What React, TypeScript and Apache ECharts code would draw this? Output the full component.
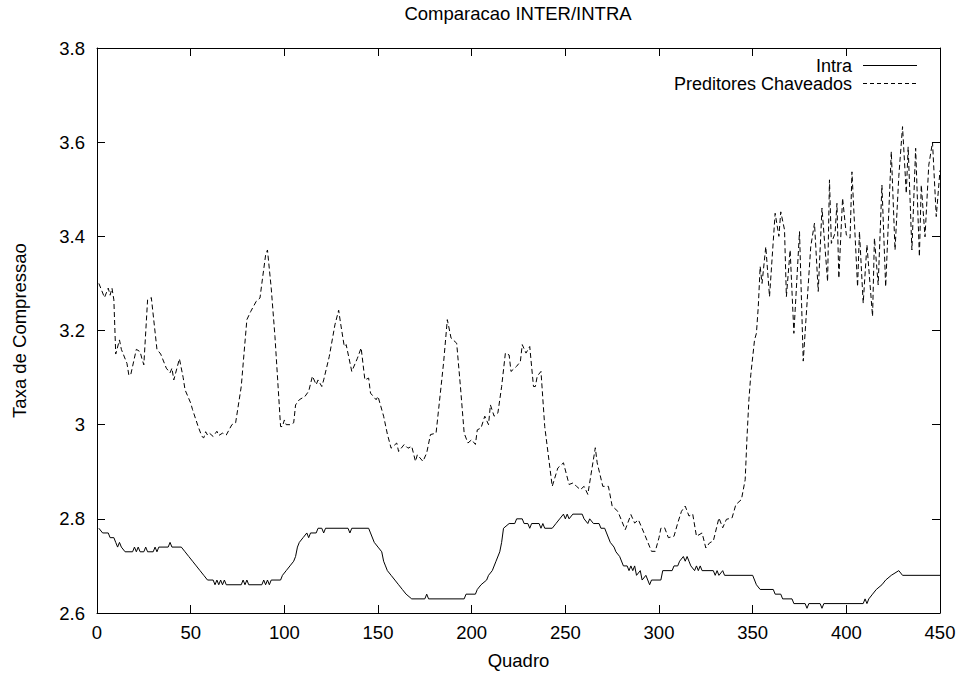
import React, { useEffect, useRef } from "react";
import * as echarts from "echarts";

const chartTitle = "Comparacao INTER/INTRA";
const xAxisName = "Quadro";
const yAxisName = "Taxa de Compressao";
const seriesNames = ["Intra", "Preditores Chaveados"];
const xTicks = { min: 0, max: 450, interval: 50 };
const yTicks = { min: 2.6, max: 3.8, interval: 0.2 };

// Intra: [quadro, taxa]
const intraPoints: [number, number][] = [
  [1, 2.78], [3, 2.77], [6, 2.77], [7, 2.76], [9, 2.76], [10, 2.75], [11, 2.74], [12, 2.75], [13, 2.74],
  [15, 2.73], [19, 2.73], [20, 2.74], [21, 2.73], [22, 2.74], [23, 2.73], [25, 2.73], [26, 2.74], [27, 2.73],
  [30, 2.73], [31, 2.74], [32, 2.73], [33, 2.74], [38, 2.74], [39, 2.75], [40, 2.74], [45, 2.74], [47, 2.73],
  [49, 2.72], [51, 2.71], [53, 2.7], [55, 2.69], [57, 2.68], [59, 2.67], [62, 2.67], [63, 2.66], [64, 2.67],
  [65, 2.66], [66, 2.67], [67, 2.66], [68, 2.67], [69, 2.66], [77, 2.66], [78, 2.67], [79, 2.66], [80, 2.67],
  [81, 2.66], [88, 2.66], [89, 2.67], [90, 2.66], [91, 2.67], [92, 2.66], [93, 2.67], [98, 2.67], [99, 2.68],
  [101, 2.69], [103, 2.7], [105, 2.71], [106, 2.72], [107, 2.74], [108, 2.75], [110, 2.76], [112, 2.77],
  [113, 2.76], [114, 2.77], [117, 2.77], [118, 2.78], [120, 2.78], [121, 2.77], [122, 2.78], [134, 2.78],
  [135, 2.77], [136, 2.78], [145, 2.78], [146, 2.77], [148, 2.75], [150, 2.74], [152, 2.73], [153, 2.71],
  [154, 2.7], [155, 2.69], [157, 2.68], [159, 2.67], [161, 2.66], [163, 2.65], [165, 2.64], [168, 2.63],
  [175, 2.63], [176, 2.64], [177, 2.63], [196, 2.63], [197, 2.64], [202, 2.64], [203, 2.65], [205, 2.66],
  [208, 2.67], [209, 2.68], [211, 2.69], [213, 2.71], [215, 2.73], [216, 2.75], [217, 2.78], [220, 2.79],
  [223, 2.79], [224, 2.8], [227, 2.8], [228, 2.79], [230, 2.79], [231, 2.78], [232, 2.79], [236, 2.79],
  [237, 2.78], [238, 2.79], [239, 2.78], [243, 2.78], [245, 2.79], [247, 2.8], [249, 2.81], [250, 2.8],
  [251, 2.81], [252, 2.8], [254, 2.81], [259, 2.81], [260, 2.8], [262, 2.79], [263, 2.8], [265, 2.79],
  [268, 2.79], [269, 2.78], [271, 2.78], [272, 2.77], [274, 2.75], [276, 2.74], [277, 2.73], [279, 2.72],
  [281, 2.7], [283, 2.7], [284, 2.69], [285, 2.7], [286, 2.69], [287, 2.7], [288, 2.68], [290, 2.69],
  [291, 2.67], [293, 2.68], [295, 2.66], [296, 2.67], [301, 2.67], [302, 2.69], [307, 2.69], [308, 2.7],
  [310, 2.7], [311, 2.71], [313, 2.72], [314, 2.71], [315, 2.72], [316, 2.71], [317, 2.7], [319, 2.69],
  [320, 2.7], [321, 2.69], [322, 2.7], [323, 2.69], [329, 2.69], [330, 2.68], [331, 2.69], [332, 2.68],
  [334, 2.69], [335, 2.68], [350, 2.68], [352, 2.66], [354, 2.65], [361, 2.65], [362, 2.64], [365, 2.64],
  [366, 2.63], [371, 2.63], [372, 2.62], [378, 2.62], [379, 2.61], [380, 2.62], [386, 2.62], [387, 2.61],
  [388, 2.62], [409, 2.62], [410, 2.63], [411, 2.62], [412, 2.63], [414, 2.64], [416, 2.65], [419, 2.66],
  [421, 2.67], [424, 2.68], [428, 2.69], [430, 2.68], [450, 2.68],
];

// Preditores Chaveados: [quadro, taxa]
const predPoints: [number, number][] = [
  [1, 3.3], [2, 3.29], [4, 3.27], [6, 3.29], [7, 3.275], [8, 3.29], [9, 3.265], [10, 3.15], [12, 3.18],
  [13, 3.16], [16, 3.13], [17, 3.105], [18, 3.106], [21, 3.16], [23, 3.155], [24, 3.14], [25, 3.127],
  [27, 3.265], [29, 3.27], [32, 3.16], [34, 3.15], [37, 3.12], [38, 3.115], [39, 3.11], [40, 3.12],
  [41, 3.095], [44, 3.14], [46, 3.1], [47, 3.074], [50, 3.046], [51, 3.032], [54, 2.996], [56, 2.975],
  [57, 2.972], [58, 2.985], [59, 2.978], [60, 2.982], [62, 2.975], [64, 2.986], [65, 2.977], [67, 2.982],
  [69, 2.978], [72, 3.0], [74, 3.004], [77, 3.081], [80, 3.223], [82, 3.24], [85, 3.262], [87, 3.269],
  [88, 3.3], [90, 3.36], [91, 3.371], [93, 3.29], [95, 3.187], [98, 2.996], [99, 2.996], [100, 3.01],
  [101, 3.0], [103, 3.0], [105, 3.004], [106, 3.042], [108, 3.053], [111, 3.06], [113, 3.071], [115, 3.103],
  [117, 3.085], [118, 3.095], [120, 3.081], [121, 3.095], [124, 3.145], [127, 3.212], [129, 3.243],
  [130, 3.216], [132, 3.166], [133, 3.17], [136, 3.113], [139, 3.141], [141, 3.163], [143, 3.095],
  [145, 3.099], [146, 3.067], [149, 3.053], [150, 3.06], [153, 3.018], [155, 2.98], [157, 2.95],
  [160, 2.961], [161, 2.943], [164, 2.958], [166, 2.95], [168, 2.954], [170, 2.922], [171, 2.936],
  [174, 2.922], [176, 2.94], [178, 2.979], [181, 2.982], [185, 3.131], [187, 3.223], [189, 3.184],
  [192, 3.173], [194, 3.081], [196, 2.982], [198, 2.961], [200, 2.968], [202, 2.958], [203, 2.989],
  [205, 2.993], [207, 3.018], [209, 3.0], [210, 3.042], [212, 3.018], [214, 3.025], [216, 3.081],
  [218, 3.152], [220, 3.148], [221, 3.113], [224, 3.124], [226, 3.134], [227, 3.17], [229, 3.152],
  [231, 3.166], [233, 3.081], [234, 3.081], [235, 3.103], [237, 3.113], [239, 2.996], [243, 2.869],
  [246, 2.908], [249, 2.919], [252, 2.873], [254, 2.876], [256, 2.869], [258, 2.862], [260, 2.869],
  [262, 2.852], [266, 2.951], [267, 2.919], [270, 2.869], [273, 2.869], [275, 2.827], [278, 2.816],
  [282, 2.777], [285, 2.809], [287, 2.791], [289, 2.798], [292, 2.77], [296, 2.731], [298, 2.731],
  [300, 2.76], [301, 2.78], [303, 2.781], [305, 2.76], [308, 2.763], [310, 2.791], [312, 2.816],
  [314, 2.827], [316, 2.806], [318, 2.81], [320, 2.763], [323, 2.77], [325, 2.738], [327, 2.749],
  [329, 2.753], [332, 2.802], [334, 2.781], [336, 2.799], [339, 2.802], [341, 2.83], [344, 2.841],
  [346, 2.883], [347, 2.975], [348, 3.053], [349, 3.106], [351, 3.18], [352, 3.194], [353, 3.251],
  [354, 3.336], [355, 3.3], [357, 3.378], [359, 3.272], [362, 3.449], [364, 3.4], [365, 3.452],
  [367, 3.414], [368, 3.272], [370, 3.371], [372, 3.194], [375, 3.41], [377, 3.135], [381, 3.378],
  [383, 3.428], [385, 3.283], [387, 3.46], [390, 3.304], [391, 3.52], [392, 3.385], [394, 3.407],
  [395, 3.47], [396, 3.311], [398, 3.481], [400, 3.403], [402, 3.396], [403, 3.537], [406, 3.293],
  [407, 3.41], [409, 3.258], [411, 3.382], [414, 3.23], [415, 3.396], [417, 3.297], [419, 3.509],
  [421, 3.293], [424, 3.58], [426, 3.371], [428, 3.527], [430, 3.633], [432, 3.491], [433, 3.59],
  [435, 3.371], [437, 3.587], [439, 3.357], [440, 3.509], [442, 3.399], [444, 3.551], [446, 3.6],
  [448, 3.442], [450, 3.54],
];

const FONT = '"Liberation Sans", Arial, Helvetica, sans-serif';
const FS = 18.5;
const LEGEND_FS = 18;

export default function App() {
  const ref = useRef<HTMLDivElement>(null);
  useEffect(() => {
    if (!ref.current) return;
    const chart = echarts.init(ref.current, undefined, { renderer: "svg" });
    const axisLine = { show: true, onZero: false, lineStyle: { color: "#000", width: 1 } };
    const tick = { show: true, inside: true, length: 8, lineStyle: { color: "#000", width: 1 } };
    const labelStyle = { color: "#000", fontSize: FS, fontFamily: FONT };
    const nameStyle = { color: "#000", fontSize: FS, fontFamily: FONT };
    chart.setOption({
      animation: false,
      backgroundColor: "#fff",
      title: {
        text: chartTitle,
        left: 513,
        top: -1,
        textAlign: "center",
        textStyle: { color: "#000", fontSize: FS, fontWeight: "normal", fontFamily: FONT },
      },
      grid: { left: 97, right: 22, top: 48, bottom: 61, containLabel: false },
      xAxis: [
        {
          type: "value", ...xTicks, position: "bottom",
          axisLine, axisTick: tick, splitLine: { show: false },
          axisLabel: { ...labelStyle, margin: 10 },
          name: xAxisName, nameLocation: "middle", nameGap: 38, nameTextStyle: nameStyle,
        },
        {
          type: "value", ...xTicks, position: "top",
          axisLine, axisTick: tick, splitLine: { show: false }, axisLabel: { show: false },
        },
      ],
      yAxis: [
        {
          type: "value", ...yTicks, position: "left",
          axisLine, axisTick: tick, splitLine: { show: false },
          axisLabel: { ...labelStyle, margin: 12 },
          name: yAxisName, nameLocation: "middle", nameGap: 68, nameTextStyle: nameStyle,
        },
        {
          type: "value", ...yTicks, position: "right",
          axisLine, axisTick: tick, splitLine: { show: false }, axisLabel: { show: false },
        },
      ],
      series: [
        {
          name: seriesNames[0], type: "line", data: intraPoints, symbol: "none", showSymbol: false,
          xAxisIndex: 0, yAxisIndex: 0,
          lineStyle: { color: "#000", width: 1 },
        },
        {
          name: seriesNames[1], type: "line", data: predPoints, symbol: "none", showSymbol: false,
          xAxisIndex: 0, yAxisIndex: 0,
          lineStyle: { color: "#000", width: 1, type: [5, 3] },
        },
      ],
      graphic: [
        {
          type: "text", x: 852, y: 65.5,
          style: { text: seriesNames[0], align: "right", verticalAlign: "middle", fontSize: LEGEND_FS, lineHeight: LEGEND_FS, fontFamily: FONT, fill: "#000" },
        },
        {
          type: "line", shape: { x1: 863, y1: 65.5, x2: 917, y2: 65.5 },
          style: { stroke: "#000", lineWidth: 1 },
        },
        {
          type: "text", x: 852, y: 84,
          style: { text: seriesNames[1], align: "right", verticalAlign: "middle", fontSize: LEGEND_FS, lineHeight: LEGEND_FS, fontFamily: FONT, fill: "#000" },
        },
        {
          type: "line", shape: { x1: 863, y1: 83.5, x2: 917, y2: 83.5 },
          style: { stroke: "#000", lineWidth: 1, lineDash: [4, 3] },
        },
      ],
    });
    return () => chart.dispose();
  }, []);
  return (
    <div
      ref={ref}
      style={{ position: "fixed", left: 0, top: 0, width: 962, height: 675, background: "#fff" }}
    />
  );
}
